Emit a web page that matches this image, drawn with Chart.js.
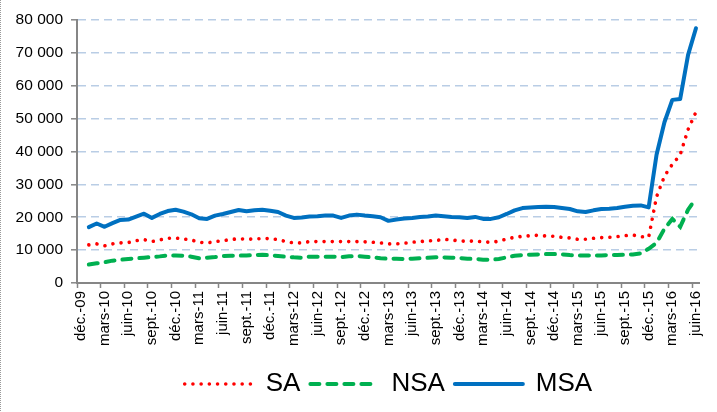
<!DOCTYPE html>
<html>
<head>
<meta charset="utf-8">
<script src="https://cdn.jsdelivr.net/npm/chart.js@4/dist/chart.umd.min.js"></script>
<style>
  html, body { margin: 0; padding: 0; background: #ffffff; }
  #wrap { width: 717px; height: 412px; position: relative; }
  canvas { display: block; }
</style>
</head>
<body>
<div id="wrap"><canvas id="c" width="717" height="412"></canvas></div>
<script>
// ---- data ----
const categories = [
  "déc.-09",
  "janv.-10","févr.-10","mars-10","avr.-10","mai-10","juin-10","juil.-10","août-10","sept.-10","oct.-10","nov.-10","déc.-10",
  "janv.-11","févr.-11","mars-11","avr.-11","mai-11","juin-11","juil.-11","août-11","sept.-11","oct.-11","nov.-11","déc.-11",
  "janv.-12","févr.-12","mars-12","avr.-12","mai-12","juin-12","juil.-12","août-12","sept.-12","oct.-12","nov.-12","déc.-12",
  "janv.-13","févr.-13","mars-13","avr.-13","mai-13","juin-13","juil.-13","août-13","sept.-13","oct.-13","nov.-13","déc.-13",
  "janv.-14","févr.-14","mars-14","avr.-14","mai-14","juin-14","juil.-14","août-14","sept.-14","oct.-14","nov.-14","déc.-14",
  "janv.-15","févr.-15","mars-15","avr.-15","mai-15","juin-15","juil.-15","août-15","sept.-15","oct.-15","nov.-15","déc.-15",
  "janv.-16","févr.-16","mars-16","avr.-16","mai-16","juin-16"
];

const saValues = [
  null,
  11600,11900,11300,11900,12200,12300,12900,13200,12600,13100,13600,13700,
  13400,13100,12400,12200,12600,12900,13200,13500,13300,13400,13500,13500,
  13200,12600,12200,12200,12600,12600,12600,12600,12600,12600,12600,12500,
  12400,12200,11900,11900,12100,12400,12600,12800,12900,13300,13100,12800,
  12700,12800,12500,12400,12700,13400,13900,14200,14400,14500,14300,14200,
  13900,13700,13300,13300,13600,13800,13900,14100,14400,14600,14100,13900,
  26200,32500,36100,39000,46700,52000
];

const nsaValues = [
  null,
  5600,6000,6300,6800,7100,7300,7500,7700,7900,8100,8400,8400,
  8300,8000,7500,7700,7900,8200,8300,8300,8400,8500,8600,8400,
  8200,8000,7800,7700,8000,8000,8000,8000,7900,8100,8200,8000,
  7800,7500,7400,7400,7300,7400,7500,7700,7800,7800,7700,7600,
  7400,7300,7100,7100,7300,7800,8300,8500,8600,8700,8800,8800,
  8700,8500,8400,8400,8400,8400,8500,8500,8600,8700,9000,10400,
  12200,16500,19500,17100,22300,25800
];

const msaValues = [
  null,
  17000,18100,17100,18200,19200,19300,20200,21100,19800,21000,21900,22300,
  21700,20900,19700,19500,20500,21000,21600,22200,21800,22100,22300,22000,
  21600,20500,19800,19900,20200,20300,20500,20500,19800,20500,20800,20500,
  20300,20000,18900,19300,19600,19800,20100,20200,20500,20300,20100,20000,
  19800,20100,19500,19500,20000,21000,22100,22800,23000,23100,23200,23100,
  22800,22500,21800,21600,22100,22500,22600,22800,23200,23500,23600,23000,
  39000,48900,55700,56000,69400,77500
];

const seriesNames = ["SA", "NSA", "MSA"];
const yTickValues = [0, 10000, 20000, 30000, 40000, 50000, 60000, 70000, 80000];
const labelEvery = 3;

// ---- chart ----
const FONT = '"Liberation Sans", Arial, Helvetica, sans-serif';
const AXIS_GREY = '#868686';
const GRID_BLUE = '#B9CDE5';

function fmtThousands(v) {
  return String(v).replace(/\B(?=(\d{3})+(?!\d))/g, ' ');
}

const frame = {
  id: 'frame',
  afterDraw(chart) {
    const ctx = chart.ctx;
    ctx.save();
    ctx.strokeStyle = '#9a9a9a';
    ctx.lineWidth = 1;
    ctx.setLineDash([1, 1]);
    ctx.beginPath();
    ctx.moveTo(0.5, 0);
    ctx.lineTo(0.5, chart.height);
    ctx.stroke();
    ctx.restore();
  }
};

Chart.defaults.font.family = FONT;
Chart.defaults.color = '#000';

new Chart(document.getElementById('c'), {
  type: 'line',
  data: {
    labels: categories,
    datasets: [
      {
        label: seriesNames[0], data: saValues,
        borderColor: '#FF0000', backgroundColor: '#FF0000',
        borderWidth: 3.6, borderDash: [0.01, 8.2], borderCapStyle: 'round',
        pointRadius: 0, tension: 0, fill: false, order: 3
      },
      {
        label: seriesNames[1], data: nsaValues,
        borderColor: '#00B050', backgroundColor: '#00B050',
        borderWidth: 4, borderDash: [9, 8], borderCapStyle: 'round',
        pointRadius: 0, tension: 0, fill: false, order: 2
      },
      {
        label: seriesNames[2], data: msaValues,
        borderColor: '#0070C0', backgroundColor: '#0070C0',
        borderWidth: 4, borderCapStyle: 'round', borderJoinStyle: 'round',
        pointRadius: 0, tension: 0, fill: false, order: 1
      }
    ]
  },
  options: {
    responsive: false,
    animation: false,
    devicePixelRatio: 1,
    layout: { padding: { top: 20, right: 5, bottom: 5, left: 0 } },
    plugins: {
      tooltip: { enabled: false },
      legend: {
        position: 'bottom',
        fullSize: false,
        labels: {
          usePointStyle: true,
          pointStyleWidth: 68,
          boxHeight: 4,
          padding: 10,
          color: '#000',
          font: { size: 26, family: '"Liberation Sans Narrow", "Liberation Sans", Arial, sans-serif' },
          generateLabels(chart) {
            return chart.data.datasets.map((ds, i) => ({
              text: ds.label,
              fillStyle: ds.borderColor,
              strokeStyle: ds.borderColor,
              lineWidth: ds.borderWidth,
              lineDash: ds.borderDash || [],
              lineCap: ds.borderCapStyle || 'butt',
              pointStyle: 'line',
              hidden: false,
              datasetIndex: i,
              fontColor: '#000'
            }));
          }
        }
      }
    },
    scales: {
      x: {
        type: 'category',
        offset: true,
        grid: {
          offset: true,
          drawOnChartArea: false,
          drawTicks: true,
          tickLength: 5,
          tickWidth: 1.5,
          tickColor: (c) => (c.index % labelEvery === 0 ? AXIS_GREY : 'rgba(0,0,0,0)'),
          color: 'rgba(0,0,0,0)'
        },
        border: { display: true, color: AXIS_GREY, width: 2 },
        ticks: {
          autoSkip: false,
          maxRotation: 90,
          minRotation: 90,
          padding: 3,
          color: '#000',
          font: { size: 15, family: FONT },
          callback: function (v, i) { return i % labelEvery === 0 ? categories[i] : ''; }
        },
        afterFit(s) { s.height = 78; }
      },
      y: {
        min: 0,
        max: 80000,
        afterBuildTicks(s) { s.ticks = yTickValues.map(v => ({ value: v })); },
        grid: {
          color: (c) => (c.tick && c.tick.value === 0 ? 'rgba(0,0,0,0)' : GRID_BLUE),
          lineWidth: 1.6,
          drawTicks: true,
          tickLength: 6,
          tickWidth: 1.5,
          tickColor: AXIS_GREY,
          tickBorderDash: []
        },
        border: { display: true, color: AXIS_GREY, width: 2, dash: [8, 5] },
        ticks: {
          padding: 8,
          color: '#000',
          font: { size: 15.5, family: FONT },
          callback: (v) => fmtThousands(v)
        },
        afterFit(s) { s.width = 77; }
      }
    }
  },
  plugins: [frame]
});
</script>
</body>
</html>
